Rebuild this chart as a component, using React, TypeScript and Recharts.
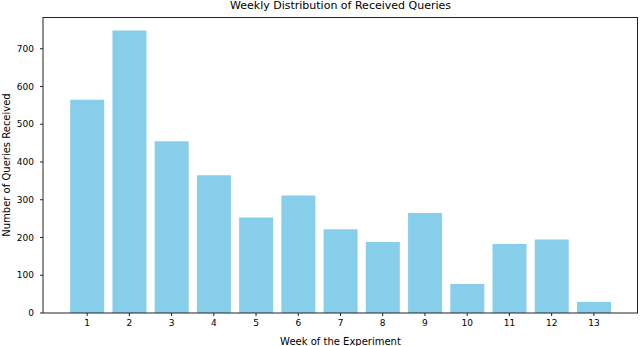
import { BarChart, Bar, XAxis, YAxis } from 'recharts';

const weeks = ['1', '2', '3', '4', '5', '6', '7', '8', '9', '10', '11', '12', '13'];
const queries = [565, 748, 455, 365, 253, 311, 222, 188, 265, 77, 183, 195, 29];
const yTicks = [0, 100, 200, 300, 400, 500, 600, 700];

const data = weeks.map((w, i) => ({ week: w, queries: queries[i] }));

const font = 'DejaVu Sans';

export default function App() {
  return (
    <div style={{ position: 'absolute', left: 0, top: 0, width: 640, height: 346, background: '#fff' }}>
      <div
        style={{
          position: 'absolute',
          left: 43,
          width: 595,
          top: -1,
          textAlign: 'center',
          fontFamily: font,
          fontSize: 11,
          color: '#000',
        }}
      >
        Weekly Distribution of Received Queries
      </div>
      <BarChart
        width={640}
        height={346}
        data={data}
        margin={{ top: 17, right: 2, left: 0, bottom: 0 }}
        barCategoryGap="10%"
      >
        <XAxis
          dataKey="week"
          padding={{ left: 23, right: 23 }}
          height={33}
          tickSize={3}
          tickMargin={4}
          stroke="#222"
          tick={{ fill: '#000', fontSize: 9, fontFamily: font }}
          label={{
            value: 'Week of the Experiment',
            position: 'insideBottom',
            offset: 1,
            style: { fontFamily: font, fontSize: 10, fill: '#000' },
          }}
        />
        <YAxis
          type="number"
          domain={[0, 784]}
          ticks={yTicks}
          width={43}
          tickSize={3}
          tickMargin={6}
          stroke="#222"
          allowDataOverflow
          tick={{ fill: '#000', fontSize: 9, fontFamily: font }}
          label={{
            value: 'Number of Queries Received',
            angle: -90,
            position: 'insideLeft',
            offset: 6,
            style: { fontFamily: font, fontSize: 10, fill: '#000', textAnchor: 'middle' },
          }}
        />
        <Bar dataKey="queries" fill="#87CEEB" isAnimationActive={false} />
      </BarChart>
      <div
        style={{
          position: 'absolute',
          left: 43,
          top: 17,
          width: 595,
          height: 296,
          borderTop: '1px solid #222',
          borderRight: '1px solid #222',
          boxSizing: 'border-box',
          pointerEvents: 'none',
        }}
      />
    </div>
  );
}
